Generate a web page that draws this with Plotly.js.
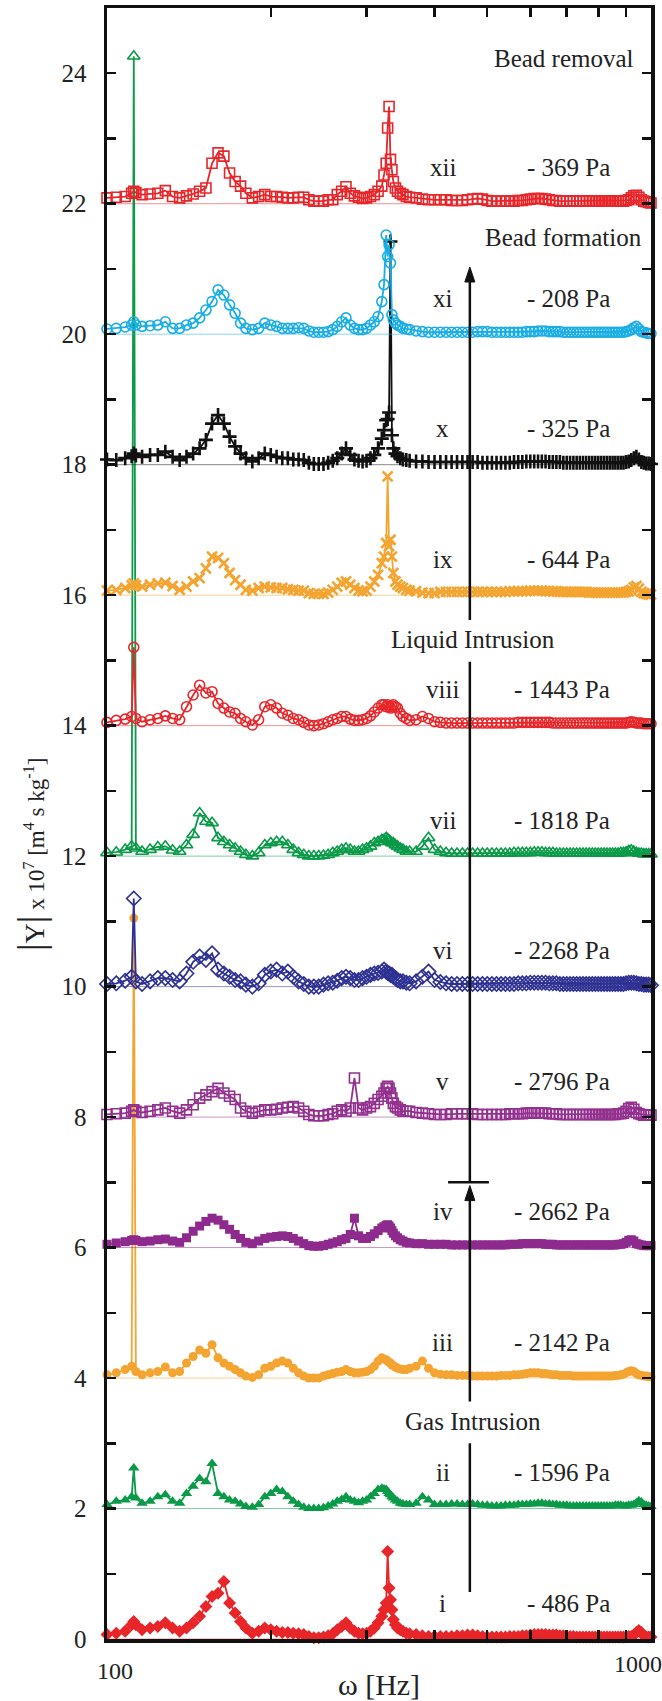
<!DOCTYPE html>
<html><head><meta charset="utf-8">
<script src="https://cdn.plot.ly/plotly-3.0.1.min.js"></script>
<style>html,body{margin:0;padding:0;background:#fff}#chart{width:662px;height:1701px}</style>
</head><body><div id="chart"></div>
<script>
// Frequency grid (Hz)
const freq = [100,104,108,111,112,113,116,
120,124,128,132,136,140,144,148,152,156,160,164,168,172,176,180,
185,190,195,200,205,210,215,220,225,230,235,240,245,250,255,260,265,270,275,280,285,290,295,300,305,310,315,320,
323,326,328,330,332,334,336,339,342,346,
350,355,360,
370,380,390,400,
410,420,430,440,450,460,470,480,490,500,
510,520,530,540,550,560,570,580,590,600,
610,620,630,640,650,660,670,680,690,700,
710,720,730,740,750,760,770,780,790,800,
810,820,830,840,850,860,870,880,890,900,
910,920,930,940,950,960,970,980,990,1000];

// vertical stacking offsets of the curves
const offsets = [0,2,4,6,8,10,12,14,16,18,20,22];
const labels = ['i','ii','iii','iv','v','vi','vii','viii','ix','x','xi','xii'];
const pressures = ['- 486 Pa','- 1596 Pa','- 2142 Pa','- 2662 Pa','- 2796 Pa','- 2268 Pa','- 1818 Pa','- 1443 Pa','- 644 Pa','- 325 Pa','- 208 Pa','- 369 Pa'];

// |Y| x 10^7 values for each curve (before offset)
const s1 = [0.07,0.09,0.12,0.22,0.27,0.22,0.14,
0.17,0.19,0.25,0.17,0.12,0.17,0.25,0.35,0.5,0.65,0.7,0.88,0.55,0.4,0.27,0.17,
0.09,0.12,0.17,0.14,0.12,0.10,0.10,0.09,0.08,0.07,0.04,0.02,0.02,0.03,0.05,0.08,0.14,0.19,0.25,0.17,0.12,0.09,0.08,0.09,0.12,0.17,0.25,0.35,
0.45,0.55,1.34,0.78,0.6,0.45,0.3,0.22,0.17,0.14,
0.12,0.09,0.08,
0.07,0.05,0.04,0.04,
0.04,0.04,0.04,0.05,0.05,0.06,0.06,0.05,0.04,0.03,
0.03,0.03,0.03,0.03,0.04,0.04,0.04,0.05,0.05,0.06,
0.07,0.07,0.07,0.07,0.06,0.06,0.06,0.05,0.05,0.04,
0.04,0.04,0.03,0.03,0.03,0.03,0.03,0.03,0.03,0.03,
0.03,0.03,0.03,0.03,0.03,0.03,0.03,0.03,0.03,0.03,
0.04,0.04,0.06,0.1,0.13,0.1,0.05,0.03,0.03,0.03];

const s2 = [0.06,0.11,0.13,0.18,0.62,0.16,0.08,
0.11,0.18,0.21,0.11,0.08,0.23,0.34,0.46,0.41,0.69,0.23,0.18,0.13,0.11,0.07,0.03,
0.02,0.06,0.18,0.23,0.29,0.26,0.18,0.11,0.06,0.02,0.0,0.0,0.0,0.01,0.04,0.07,0.11,0.14,0.18,0.13,0.11,0.09,0.11,0.13,0.18,0.23,0.29,0.31,
0.3,0.29,0.26,0.23,0.21,0.18,0.16,0.13,0.11,0.08,
0.07,0.06,0.06,
0.08,0.18,0.13,0.06,
0.06,0.06,0.07,0.07,0.06,0.06,0.07,0.06,0.05,0.05,
0.04,0.04,0.04,0.05,0.05,0.05,0.06,0.06,0.06,0.07,
0.07,0.08,0.08,0.07,0.07,0.06,0.06,0.05,0.05,0.05,
0.04,0.04,0.04,0.04,0.04,0.04,0.04,0.04,0.04,0.04,
0.04,0.04,0.04,0.04,0.04,0.05,0.05,0.05,0.04,0.04,
0.05,0.05,0.06,0.09,0.12,0.1,0.06,0.05,0.04,0.03];

const s3 = [0.05,0.08,0.13,0.18,7.05,0.10,0.05,
0.08,0.10,0.17,0.08,0.10,0.23,0.33,0.43,0.38,0.51,0.31,0.23,0.18,0.13,0.08,0.03,
0.01,0.05,0.15,0.18,0.23,0.26,0.23,0.15,0.08,0.03,0.0,0.0,0.0,0.03,0.05,0.07,0.09,0.10,0.13,0.10,0.08,0.08,0.09,0.10,0.13,0.18,0.26,0.31,
0.29,0.28,0.26,0.24,0.23,0.2,0.19,0.17,0.15,0.14,
0.13,0.13,0.15,
0.18,0.26,0.15,0.08,
0.06,0.05,0.05,0.04,0.04,0.04,0.03,0.03,0.03,0.03,
0.03,0.03,0.04,0.04,0.04,0.05,0.05,0.06,0.07,0.08,
0.08,0.08,0.07,0.07,0.06,0.05,0.05,0.04,0.04,0.04,
0.04,0.03,0.03,0.03,0.03,0.03,0.03,0.03,0.03,0.03,
0.03,0.03,0.03,0.03,0.03,0.04,0.04,0.05,0.06,0.08,
0.1,0.11,0.1,0.07,0.05,0.04,0.03,0.03,0.02,0.02];

const s4 = [0.05,0.07,0.09,0.11,0.12,0.11,0.09,
0.10,0.12,0.13,0.10,0.08,0.15,0.25,0.33,0.40,0.45,0.42,0.35,0.28,0.2,0.14,0.08,
0.06,0.1,0.14,0.16,0.17,0.18,0.17,0.14,0.1,0.06,0.03,0.02,0.02,0.03,0.05,0.07,0.09,0.12,0.14,0.2,0.45,0.18,0.14,0.14,0.17,0.21,0.26,0.3,
0.32,0.34,0.35,0.33,0.3,0.26,0.22,0.18,0.15,0.12,
0.1,0.08,0.07,
0.06,0.06,0.05,0.05,
0.05,0.05,0.04,0.04,0.04,0.04,0.04,0.04,0.04,0.04,
0.04,0.04,0.04,0.04,0.05,0.05,0.05,0.06,0.06,0.06,
0.06,0.06,0.06,0.05,0.05,0.05,0.04,0.04,0.04,0.04,
0.04,0.04,0.04,0.04,0.04,0.04,0.04,0.04,0.04,0.04,
0.04,0.04,0.04,0.04,0.04,0.04,0.05,0.05,0.06,0.08,
0.11,0.12,0.1,0.06,0.05,0.04,0.03,0.03,0.03,0.03];

const s5 = [0.04,0.05,0.06,0.09,0.11,0.09,0.07,
0.09,0.11,0.14,0.09,0.06,0.11,0.19,0.29,0.34,0.39,0.44,0.37,0.32,0.27,0.14,0.09,
0.06,0.09,0.11,0.11,0.12,0.14,0.15,0.16,0.14,0.09,0.04,0.02,0.02,0.02,0.04,0.05,0.09,0.11,0.09,0.14,0.6,0.14,0.11,0.14,0.16,0.21,0.27,0.32,
0.37,0.44,0.47,0.44,0.37,0.29,0.21,0.16,0.14,0.11,
0.09,0.09,0.09,
0.07,0.06,0.05,0.04,
0.04,0.04,0.05,0.05,0.05,0.05,0.05,0.04,0.04,0.04,
0.04,0.04,0.04,0.04,0.05,0.05,0.05,0.05,0.06,0.06,
0.06,0.06,0.06,0.06,0.05,0.05,0.05,0.04,0.04,0.04,
0.04,0.04,0.04,0.04,0.04,0.04,0.04,0.04,0.04,0.04,
0.04,0.04,0.04,0.04,0.04,0.04,0.05,0.05,0.06,0.09,
0.13,0.15,0.12,0.07,0.05,0.04,0.03,0.03,0.03,0.03];

const s6 = [0.04,0.05,0.09,0.15,1.35,0.08,0.04,
0.08,0.13,0.13,0.10,0.08,0.2,0.38,0.46,0.41,0.51,0.26,0.2,0.15,0.10,0.08,0.03,
0.0,0.05,0.18,0.23,0.26,0.2,0.23,0.15,0.08,0.04,0.0,0.0,0.0,0.03,0.05,0.06,0.09,0.13,0.15,0.13,0.10,0.10,0.13,0.15,0.18,0.2,0.21,0.23,
0.26,0.23,0.21,0.2,0.18,0.18,0.15,0.13,0.10,0.08,
0.08,0.06,0.05,
0.08,0.15,0.23,0.10,
0.07,0.05,0.04,0.04,0.04,0.04,0.04,0.04,0.04,0.04,
0.04,0.04,0.04,0.04,0.04,0.04,0.05,0.05,0.05,0.06,
0.06,0.06,0.06,0.06,0.05,0.05,0.05,0.04,0.04,0.04,
0.04,0.04,0.04,0.04,0.04,0.04,0.04,0.04,0.04,0.04,
0.04,0.04,0.04,0.04,0.04,0.04,0.04,0.04,0.04,0.05,
0.06,0.06,0.06,0.05,0.04,0.04,0.03,0.03,0.03,0.02];

const s7 = [0.05,0.06,0.10,0.15,12.26,0.12,0.07,
0.10,0.14,0.15,0.09,0.07,0.17,0.33,0.66,0.53,0.51,0.28,0.22,0.17,0.12,0.07,0.02,
0.0,0.05,0.17,0.2,0.22,0.22,0.17,0.10,0.05,0.02,0.0,0.0,0.0,0.01,0.02,0.05,0.07,0.10,0.12,0.10,0.07,0.07,0.10,0.12,0.15,0.2,0.22,0.25,
0.25,0.28,0.26,0.24,0.22,0.2,0.2,0.17,0.15,0.12,
0.10,0.07,0.07,
0.07,0.15,0.28,0.10,
0.07,0.05,0.04,0.04,0.04,0.04,0.04,0.04,0.04,0.04,
0.04,0.04,0.04,0.04,0.04,0.05,0.05,0.05,0.05,0.05,
0.06,0.06,0.06,0.05,0.05,0.05,0.04,0.04,0.04,0.04,
0.04,0.04,0.04,0.04,0.04,0.04,0.04,0.04,0.04,0.04,
0.04,0.04,0.04,0.04,0.04,0.04,0.04,0.05,0.05,0.06,
0.08,0.09,0.07,0.05,0.04,0.04,0.03,0.03,0.03,0.03];

const s8 = [0.05,0.08,0.10,0.14,1.2,0.11,0.06,
0.09,0.11,0.15,0.11,0.09,0.29,0.47,0.62,0.50,0.52,0.34,0.27,0.21,0.19,0.11,0.06,
0.01,0.09,0.29,0.32,0.27,0.19,0.16,0.11,0.09,0.05,0.01,0.0,0.01,0.03,0.06,0.09,0.11,0.14,0.14,0.10,0.08,0.08,0.09,0.11,0.15,0.21,0.27,0.32,
0.32,0.29,0.32,0.29,0.27,0.30,0.32,0.29,0.27,0.19,
0.14,0.11,0.08,
0.09,0.14,0.11,0.06,
0.05,0.04,0.04,0.04,0.04,0.04,0.04,0.04,0.04,0.04,
0.04,0.04,0.04,0.04,0.04,0.04,0.05,0.05,0.05,0.05,
0.05,0.05,0.05,0.05,0.05,0.04,0.04,0.04,0.04,0.04,
0.04,0.04,0.04,0.04,0.04,0.04,0.04,0.04,0.04,0.04,
0.04,0.04,0.04,0.04,0.04,0.04,0.04,0.04,0.04,0.04,
0.05,0.06,0.05,0.04,0.04,0.04,0.03,0.03,0.03,0.03];

const s9 = [0.07,0.08,0.11,0.15,0.18,0.15,0.13,
0.16,0.18,0.19,0.14,0.08,0.13,0.21,0.26,0.41,0.59,0.57,0.49,0.34,0.23,0.16,0.08,
0.07,0.11,0.13,0.12,0.11,0.11,0.09,0.08,0.07,0.07,0.03,0.02,0.02,0.02,0.04,0.08,0.13,0.19,0.21,0.16,0.11,0.07,0.06,0.07,0.13,0.21,0.31,0.49,
0.59,0.8,1.82,0.75,0.85,0.59,0.34,0.21,0.16,0.13,
0.11,0.08,0.07,
0.06,0.04,0.03,0.03,
0.05,0.05,0.05,0.05,0.05,0.05,0.05,0.05,0.05,0.05,
0.05,0.05,0.05,0.05,0.06,0.06,0.06,0.06,0.06,0.07,
0.07,0.07,0.07,0.06,0.06,0.06,0.06,0.05,0.05,0.05,
0.05,0.05,0.05,0.05,0.05,0.05,0.04,0.04,0.04,0.04,
0.04,0.04,0.04,0.04,0.04,0.04,0.04,0.04,0.04,0.05,
0.06,0.08,0.12,0.14,0.1,0.05,0.03,0.02,0.01,0.01];

const s10 = [0.08,0.07,0.10,0.13,0.17,0.14,0.12,
0.15,0.15,0.2,0.12,0.07,0.12,0.17,0.25,0.38,0.63,0.76,0.63,0.43,0.28,0.17,0.10,
0.05,0.10,0.17,0.15,0.12,0.10,0.10,0.08,0.08,0.07,0.03,0.01,0.01,0.01,0.03,0.06,0.10,0.17,0.25,0.15,0.08,0.06,0.05,0.06,0.10,0.15,0.25,0.40,
0.53,0.68,0.7,0.8,3.42,0.45,0.25,0.17,0.13,0.10,
0.08,0.07,0.06,
0.05,0.05,0.04,0.04,
0.04,0.04,0.04,0.04,0.04,0.04,0.04,0.04,0.03,0.03,
0.03,0.03,0.03,0.03,0.03,0.04,0.04,0.04,0.05,0.05,
0.05,0.05,0.05,0.05,0.04,0.04,0.04,0.04,0.03,0.03,
0.03,0.03,0.03,0.03,0.03,0.03,0.03,0.03,0.03,0.03,
0.03,0.03,0.03,0.03,0.03,0.03,0.03,0.03,0.03,0.04,
0.05,0.07,0.1,0.12,0.08,0.04,0.03,0.02,0.02,0.01];

const s11 = [0.08,0.09,0.11,0.14,0.19,0.14,0.12,
0.13,0.14,0.19,0.09,0.09,0.14,0.17,0.25,0.37,0.5,0.68,0.6,0.45,0.32,0.17,0.09,
0.07,0.09,0.17,0.14,0.12,0.09,0.09,0.09,0.10,0.09,0.05,0.03,0.03,0.03,0.04,0.07,0.12,0.19,0.25,0.14,0.09,0.07,0.07,0.09,0.14,0.19,0.27,0.5,
0.76,1.52,1.19,1.37,1.09,0.3,0.22,0.17,0.14,0.12,
0.09,0.08,0.07,
0.05,0.04,0.03,0.03,
0.03,0.03,0.03,0.03,0.03,0.03,0.03,0.04,0.04,0.04,
0.03,0.03,0.03,0.03,0.03,0.03,0.03,0.03,0.04,0.04,
0.04,0.05,0.05,0.05,0.04,0.04,0.04,0.04,0.03,0.03,
0.03,0.03,0.03,0.03,0.03,0.03,0.03,0.03,0.03,0.03,
0.03,0.03,0.03,0.03,0.03,0.03,0.03,0.03,0.03,0.04,
0.05,0.07,0.1,0.12,0.08,0.04,0.03,0.02,0.01,0.01];

const s12 = [0.09,0.10,0.11,0.16,0.19,0.17,0.14,
0.15,0.16,0.2,0.11,0.09,0.12,0.15,0.19,0.24,0.62,0.78,0.73,0.47,0.34,0.27,0.16,
0.09,0.11,0.14,0.11,0.11,0.10,0.09,0.09,0.10,0.10,0.06,0.04,0.04,0.04,0.06,0.06,0.14,0.19,0.26,0.16,0.12,0.10,0.08,0.09,0.11,0.14,0.19,0.27,
0.44,0.62,1.16,1.49,0.68,0.52,0.34,0.24,0.19,0.16,
0.14,0.11,0.10,
0.09,0.07,0.06,0.06,
0.06,0.06,0.05,0.05,0.05,0.06,0.07,0.08,0.07,0.05,
0.04,0.04,0.04,0.04,0.04,0.04,0.05,0.05,0.06,0.07,
0.08,0.08,0.08,0.07,0.06,0.05,0.05,0.04,0.04,0.04,
0.04,0.04,0.04,0.04,0.04,0.04,0.04,0.04,0.04,0.04,
0.04,0.04,0.04,0.04,0.04,0.04,0.04,0.04,0.04,0.05,
0.06,0.09,0.12,0.13,0.1,0.06,0.04,0.03,0.02,0.01];

const yTickVals = [0,2,4,6,8,10,12,14,16,18,20,22,24];
const yMinorVals = [1,3,5,7,9,11,13,15,17,19,21,23];
const xMinorVals = [200,300,400,500,600,700,800,900];
const xLabelLow = [100], xLabelHigh = [1000];

const series = [s1,s2,s3,s4,s5,s6,s7,s8,s9,s10,s11,s12];
series.forEach((s,i)=>{ if(s.length!==freq.length) throw new Error('series '+(i+1)+' has '+s.length+' values, expected '+freq.length); });

const RED='#e8262a', GREEN='#0a9a48', ORANGE='#f4a431', PURPLE='#8e2a8e', BLUE='#2e3192', CYAN='#19ade6', BLACK='#111111';
const styles = [
 {color:RED, symbol:'diamond', size:10},
 {color:GREEN, symbol:'triangle-up', size:10},
 {color:ORANGE, symbol:'circle', size:9},
 {color:PURPLE, symbol:'square', size:9},
 {color:'#93308f', symbol:'square-open', size:10},
 {color:BLUE, symbol:'diamond-open', size:11},
 {color:GREEN, symbol:'triangle-up-open', size:11},
 {color:RED, symbol:'circle-open', size:10},
 {color:ORANGE, symbol:'x-thin', size:10},
 {color:BLACK, symbol:'cross-thin', size:10},
 {color:CYAN, symbol:'circle-open', size:10},
 {color:RED, symbol:'square-open', size:10}
];

const traces = [];
series.forEach((s,i)=>{
  const st = styles[i];
  traces.push({type:'scatter', mode:'lines', xaxis:'x2', yaxis:'y',
    x:[freq[0], freq[freq.length-1]], y:[offsets[i], offsets[i]],
    line:{color:st.color, width:1}, opacity:0.5, hoverinfo:'skip', showlegend:false});
});
series.forEach((s,i)=>{
  const st = styles[i];
  const lw = st.symbol.indexOf('thin')>=0 ? 2.6 : (st.symbol.indexOf('open')>=0 ? 1.6 : 0);
  traces.push({type:'scatter', mode:'lines+markers', name:labels[i],
    x:freq, y:s.map(v=>v+offsets[i]),
    line:{color:st.color, width:1.8},
    marker:{symbol:st.symbol, size:st.size, color:st.color, line:{color:st.color, width:lw}},
    cliponaxis:false, showlegend:false});
});

const TXT = {family:'Liberation Serif, Times New Roman, serif', size:25, color:'#222'};
const annotations = [];
labels.forEach((t,i)=>annotations.push({xref:'paper', yref:'y', x:0.617, y:offsets[i]+0.55, text:t, showarrow:false, xanchor:'center', yanchor:'middle', font:TXT}));
pressures.forEach((t,i)=>annotations.push({xref:'paper', yref:'y', x:0.928, y:offsets[i]+0.55, text:t, showarrow:false, xanchor:'right', yanchor:'middle', font:TXT}));
[['Bead removal',0.840,24.23],['Bead formation',0.840,21.48],['Liquid Intrusion',0.6725,15.32],['Gas Intrusion',0.672,3.33]].forEach(p=>
  annotations.push({xref:'paper', yref:'y', x:p[1], y:p[2], text:p[0], showarrow:false, xanchor:'center', yanchor:'middle', font:TXT}));
// y-axis title
annotations.push({xref:'paper', yref:'paper', x:-0.1387, y:0.481, textangle:-90, showarrow:false, xanchor:'center', yanchor:'middle',
  font:{family:'Liberation Serif, Times New Roman, serif', size:23, color:'#222'},
  text:'<span style="font-size:38px">|</span><span style="font-size:28px">Y</span><span style="font-size:38px">|</span> x 10<sup>7</sup> [m<sup>4</sup> s kg<sup>-1</sup>]'});

const L = {type:'line', xref:'paper', yref:'y', line:{color:'#111', width:2.5}};
const head = (yt)=>({type:'path', xref:'paper', yref:'y', fillcolor:'#111', line:{color:'#111', width:1},
  path:'M 0.6578 '+(yt-0.23)+' L 0.667 '+yt+' L 0.6762 '+(yt-0.23)+' Z'});
const shapes = [
  Object.assign({}, L, {x0:0.667, x1:0.667, y0:15.62, y1:20.85}),
  Object.assign({}, L, {x0:0.667, x1:0.667, y0:7.0, y1:14.98}),
  Object.assign({}, L, {x0:0.627, x1:0.702, y0:7.0, y1:7.0}),
  Object.assign({}, L, {x0:0.667, x1:0.667, y0:3.64, y1:6.8}),
  Object.assign({}, L, {x0:0.667, x1:0.667, y0:0.72, y1:3.0}),
  head(21.03), head(6.95)
];

const axisCommon = {ticks:'inside', ticklen:9, tickwidth:2.5, tickcolor:'#111', showline:true, linewidth:3.5, linecolor:'#111', mirror:'ticks', showgrid:false, zeroline:false, automargin:false};
const layout = {
  width:662, height:1701, margin:{l:107, r:11, t:8, b:62},
  paper_bgcolor:'#fff', plot_bgcolor:'#fff', showlegend:false,
  font:{family:'Liberation Serif, Times New Roman, serif', color:'#222'},
  xaxis:Object.assign({}, axisCommon, {type:'log', range:[2,3], tickmode:'array', tickvals:xLabelLow, ticktext:xLabelLow.map(String),
    tickfont:{size:24}, ticklabelshift:8, ticklabelstandoff:8,
    minor:{tickmode:'array', tickvals:xMinorVals, ticks:'inside', ticklen:9, tickwidth:2.5, tickcolor:'#111', showgrid:false},
    title:{text:'ω [Hz]', font:{size:30}, standoff:0}}),
  xaxis2:{type:'log', range:[2,3], overlaying:'x', anchor:'y', side:'bottom', tickmode:'array', tickvals:xLabelHigh, ticktext:xLabelHigh.map(String),
    ticks:'', showline:false, showgrid:false, zeroline:false, tickfont:{size:24}, ticklabelshift:-13, ticklabelstandoff:8, automargin:false},
  yaxis:Object.assign({}, axisCommon, {range:[0,25], tickmode:'array', tickvals:yTickVals, ticktext:yTickVals.map(String),
    tickfont:{size:25}, ticklabelstandoff:12,
    minor:{tickmode:'array', tickvals:yMinorVals, ticks:'inside', ticklen:9, tickwidth:2.5, tickcolor:'#111', showgrid:false}}),
  shapes:shapes, annotations:annotations
};
Plotly.newPlot('chart', traces, layout, {displayModeBar:false, staticPlot:true});
</script></body></html>
